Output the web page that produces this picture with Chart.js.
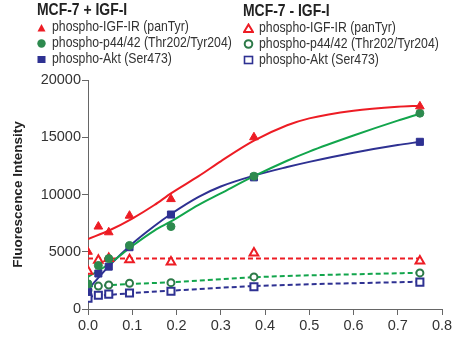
<!DOCTYPE html>
<html>
<head>
<meta charset="utf-8">
<script src="https://cdn.jsdelivr.net/npm/chart.js@4.4.1/dist/chart.umd.min.js"></script>
<style>
  html, body { margin: 0; padding: 0; background: #fff; }
  #wrap { position: relative; width: 461px; height: 343px; }
  #chart { position: absolute; left: 0; top: 0; }
  .legend { position: absolute; font-family: 'Liberation Sans', Arial, sans-serif; color: #333; }
  .legend .title { font-weight: bold; font-size: 17px; color: #222; line-height: 17px; height: 17px;
    transform: scaleX(0.82); transform-origin: left center; white-space: nowrap; }
  .legend .row { font-size: 14.5px; line-height: 16px; height: 16px; white-space: nowrap; }
  .legend .row span { display: inline-block; transform: scaleX(0.845); transform-origin: left center; }
  .legend svg { vertical-align: -1px; margin-right: 5px; }
</style>
</head>
<body>
<div id="wrap">
  <canvas id="chart" width="461" height="343"></canvas>
  <div class="legend" style="left:37px; top:1px;">
    <div class="title">MCF-7 + IGF-I</div>
    <div class="row"><svg width="10" height="9"><polygon points="4.5,1 8.5,8.5 0.5,8.5" fill="#ed1c24"/></svg><span>phospho-IGF-IR (panTyr)</span></div>
    <div class="row"><svg width="10" height="9"><circle cx="4.5" cy="4.5" r="4.2" fill="#2d8a4e"/></svg><span>phospho-p44/42 (Thr202/Tyr204)</span></div>
    <div class="row"><svg width="10" height="9"><rect x="0.5" y="1" width="8" height="7" fill="#2e3192"/></svg><span>phospho-Akt (Ser473)</span></div>
  </div>
  <div class="legend" style="left:243px; top:2px;">
    <div class="title">MCF-7 - IGF-I</div>
    <div class="row"><svg width="11" height="10"><polygon points="5.5,1.5 10,9 1,9" fill="#fff" stroke="#ed1c24" stroke-width="2"/></svg><span>phospho-IGF-IR (panTyr)</span></div>
    <div class="row"><svg width="11" height="10"><circle cx="5.5" cy="5" r="3.8" fill="#fff" stroke="#2d7a48" stroke-width="2"/></svg><span>phospho-p44/42 (Thr202/Tyr204)</span></div>
    <div class="row"><svg width="11" height="10"><rect x="1.5" y="1.5" width="8" height="7" fill="#fff" stroke="#2e3192" stroke-width="1.6"/></svg><span>phospho-Akt (Ser473)</span></div>
  </div>
</div>
<script>
var doses = [0, 0.0234, 0.0469, 0.0938, 0.1875, 0.375, 0.75];

var plusIgfir = [5000, 7200, 6700, 8150, 9600, 15000, 17700];
var plusErk   = [2200, 3800, 4400, 5550, 7200, 11600, 17100];
var plusAkt   = [1500, 3100, 3700, 5400, 8250, 11500, 14600];

var minusIgfir = [3300, 4250, 4400, 4300, 4100, 4900, 4200];
var minusErk   = [1650, 2000, 2100, 2250, 2300, 2800, 3150];
var minusAkt   = [950, 1200, 1300, 1400, 1550, 1950, 2350];

// fitted curves, sampled from the figure
var fitX = [0, 0.05, 0.1, 0.15, 0.1875, 0.25, 0.3, 0.375, 0.45, 0.5, 0.6, 0.7, 0.75];
var plusIgfirFit = [6100, 6900, 7900, 9080, 10100, 11600, 12900, 14700, 16050, 16650, 17320, 17670, 17760];
var plusErkFit   = [2800, 4000, 5500, 6850, 7650, 9100, 10100, 11600, 12950, 13750, 15150, 16450, 17050];
var plusAktFit   = [1700, 3850, 5700, 7250, 8300, 9800, 10700, 11650, 12400, 12850, 13650, 14320, 14600];

var dashX = [0, 0.0938, 0.1875, 0.375, 0.75];
var minusIgfirFit = [4400, 4400, 4400, 4400, 4400];
var minusErkFit   = [1950, 2180, 2330, 2770, 3170];
var minusAktFit   = [1080, 1370, 1600, 2000, 2390];

var yTicks = [0, 5000, 10000, 15000, 20000];
var xTicks = [0, 0.1, 0.2, 0.3, 0.4, 0.5, 0.6, 0.7, 0.8];

var RED = '#ed1c24', GREEN = '#12a54c', GREEN_MK = '#2d8a4e', BLUE = '#2e3192';

function pts(xs, ys) {
  return xs.map(function (x, i) { return {x: x, y: ys[i]}; });
}

function markers(ys, color, style, open, r) {
  return {
    data: pts(doses, ys), showLine: false, order: 0,
    pointStyle: style, pointRadius: r, pointHoverRadius: r,
    pointBackgroundColor: open ? '#fff' : color,
    pointBorderColor: color, pointBorderWidth: open ? 2 : 1
  };
}

function curve(xs, ys, color, dashed) {
  return {
    data: pts(xs, ys), order: 1, pointRadius: 0,
    borderColor: color, borderWidth: 2, borderDash: dashed ? [5, 3] : [],
    cubicInterpolationMode: 'monotone', fill: false
  };
}

var FONT = "'Liberation Sans', Arial, sans-serif";
var tickFont = {family: FONT, size: 14.5};

new Chart(document.getElementById('chart'), {
  type: 'line',
  data: {
    datasets: [
      markers(plusIgfir, RED, 'triangle', false, 5),
      markers(plusErk, GREEN_MK, 'circle', false, 4),
      markers(plusAkt, BLUE, 'rect', false, 5),
      markers(minusIgfir, RED, 'triangle', true, 5),
      markers(minusErk, '#2d7a48', 'circle', true, 3.5),
      markers(minusAkt, BLUE, 'rect', true, 5),
      curve(fitX, plusIgfirFit, RED, false),
      curve(fitX, plusErkFit, GREEN, false),
      curve(fitX, plusAktFit, BLUE, false),
      curve(dashX, minusIgfirFit, RED, true),
      curve(dashX, minusErkFit, GREEN, true),
      curve(dashX, minusAktFit, BLUE, true)
    ]
  },
  options: {
    responsive: false,
    animation: false,
    layout: {padding: {top: 80, right: 19, left: 0, bottom: 0}},
    plugins: {legend: {display: false}, tooltip: {enabled: false}},
    scales: {
      x: {
        type: 'linear', min: 0, max: 0.8,
        afterBuildTicks: function (s) { s.ticks = xTicks.map(function (v) { return {value: v}; }); },
        afterFit: function (s) { s.height = 34; },
        grid: {drawOnChartArea: false, drawTicks: true, tickLength: 6, color: '#666'},
        border: {color: '#666', width: 1},
        ticks: {color: '#333', font: tickFont, padding: 2, maxRotation: 0,
          callback: function (v) { return v.toFixed(1); }}
      },
      y: {
        min: 0, max: 20000,
        afterBuildTicks: function (s) { s.ticks = yTicks.map(function (v) { return {value: v}; }); },
        afterFit: function (s) { s.width = 88; },
        grid: {drawOnChartArea: false, drawTicks: true, tickLength: 6, color: '#666'},
        border: {color: '#666', width: 1},
        ticks: {color: '#333', font: tickFont, padding: 1,
          callback: function (v) { return String(v); }},
        title: {display: true, text: 'Fluorescence Intensity', color: '#222',
          font: {family: FONT, size: 13.5, weight: 'bold'}, padding: {top: 10, bottom: 0}}
      }
    }
  }
});
</script>
</body>
</html>
